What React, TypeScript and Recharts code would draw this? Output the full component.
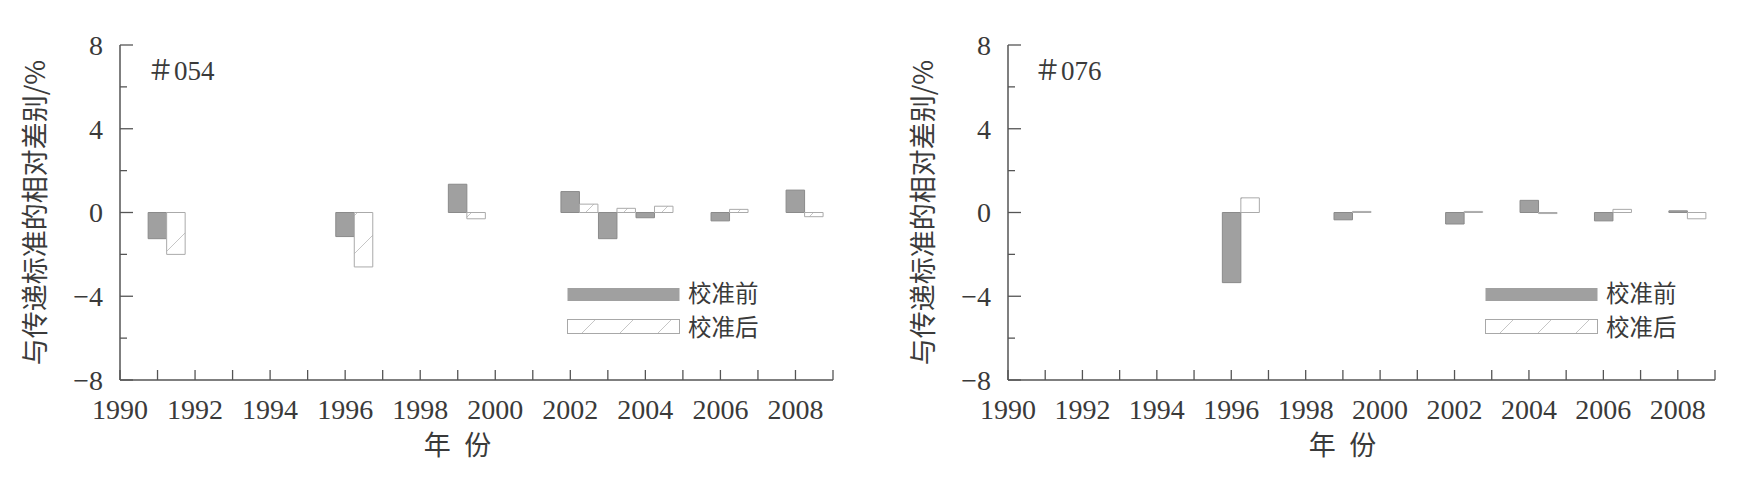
import { Bar, BarChart, Label, Legend, XAxis, YAxis } from "recharts"

const years054 = [1991, 1996, 1999, 2002, 2003, 2004, 2006, 2008]
const before054 = [-1.25, -1.15, 1.35, 1.0, -1.25, -0.25, -0.4, 1.07]
const after054 = [-2.0, -2.6, -0.3, 0.4, 0.2, 0.3, 0.15, -0.2]

const years076 = [1996, 1999, 2002, 2004, 2006, 2008]
const before076 = [-3.35, -0.35, -0.55, 0.58, -0.4, 0.08]
const after076 = [0.7, 0.05, 0.05, -0.05, 0.15, -0.3]

const yearTicks = [
  1990, 1991, 1992, 1993, 1994, 1995, 1996, 1997, 1998, 1999,
  2000, 2001, 2002, 2003, 2004, 2005, 2006, 2007, 2008, 2009,
]
const valueTicks = [-8, -6, -4, -2, 0, 2, 4, 6, 8]
const seriesNames = ["校准前", "校准后"]
const xTitle = "年\u2002份"
const yTitle = "与传递标准的相对差别/%"

const AXIS = "#555"
const INK = "#3a3a3a"
const GRAY = "#a0a0a0"
const NUM_FONT = '"Liberation Serif", "Noto Sans CJK SC", serif'
const CJK_FONT = '"Noto Sans CJK SC", sans-serif'

const rows = (years: number[], before: number[], after: number[]) =>
  years.map((year, i) => ({ year, before: before[i], after: after[i] }))

function YearTick({ x, y, payload }: any) {
  const v = payload.value
  return (
    <g>
      <line x1={x} x2={x} y1={y} y2={y - 10} stroke={AXIS} strokeWidth={1.3} />
      {v % 2 === 0 && v < 2009 ? (
        <text x={x} y={y + 39} textAnchor="middle" fill={INK} fontSize={28} fontFamily={NUM_FONT}>
          {v}
        </text>
      ) : null}
    </g>
  )
}

function ValueTick({ x, y, payload }: any) {
  const v = payload.value
  const major = v % 4 === 0
  return (
    <g>
      <line x1={x} x2={x + (major ? 13 : 7)} y1={y} y2={y} stroke={AXIS} strokeWidth={1.3} />
      {major ? (
        <text x={x - 17} y={y} dy="0.35em" textAnchor="end" fill={INK} fontSize={28} fontFamily={NUM_FONT}>
          {v < 0 ? `\u2212${-v}` : v}
        </text>
      ) : null}
    </g>
  )
}

// legend drawn at top 272; rows kept far enough apart that the CJK line boxes don't collide
function LegendBox() {
  return (
    <svg width={210} height={78} style={{ display: "block", overflow: "visible" }}>
      <rect x={0.5} y={16} width={112} height={13} fill={GRAY} />
      <rect x={0.5} y={47.5} width={112} height={14} fill="url(#afterHatch)" stroke="#a8a8a8" />
      <text x={121} y={21.5} dy="0.36em" fill={INK} fontSize={23.5} fontFamily={CJK_FONT}>
        {seriesNames[0]}
      </text>
      <text x={121} y={56} dy="0.36em" fill={INK} fontSize={23.5} fontFamily={CJK_FONT}>
        {seriesNames[1]}
      </text>
    </svg>
  )
}

function Panel({ left, tag, tagLeft, data, yAxisWidth, rightMargin, barSize, legendLeft }: any) {
  return (
    <div style={{ position: "absolute", left, top: 0, width: 870, height: 495 }}>
      <BarChart
        width={870}
        height={495}
        data={data}
        margin={{ top: 45, right: rightMargin, bottom: 0, left: 0 }}
        barGap={0}
      >
        <XAxis
          dataKey="year"
          type="number"
          domain={[1990, 2009]}
          ticks={yearTicks}
          interval={0}
          height={115}
          tickSize={0}
          tickMargin={0}
          tickLine={false}
          tick={YearTick}
          axisLine={{ stroke: AXIS, strokeWidth: 1.5 }}
        >
          <Label
            value={xTitle}
            position="insideBottom"
            offset={40}
            dx={-19}
            fill={INK}
            fontSize={27}
            fontFamily={CJK_FONT}
          />
        </XAxis>
        <XAxis xAxisId="shift" dataKey="year" type="number" domain={[1989.75, 2008.75]} hide />
        <YAxis
          type="number"
          domain={[-8, 8]}
          ticks={valueTicks}
          interval={0}
          width={yAxisWidth}
          tickSize={0}
          tickMargin={0}
          tickLine={false}
          tick={ValueTick}
          axisLine={{ stroke: AXIS, strokeWidth: 1.5 }}
        >
          <Label
            content={(p: any) => {
              const vb = p.viewBox
              const cx = vb.x + vb.width - 87
              const cy = vb.y + vb.height / 2
              return (
                <text
                  x={cx}
                  y={cy}
                  transform={`rotate(-90 ${cx} ${cy})`}
                  textAnchor="middle"
                  dominantBaseline="central"
                  fill={INK}
                  fontSize={27}
                  fontFamily={CJK_FONT}
                >
                  {yTitle}
                </text>
              )
            }}
          />
        </YAxis>
        <Bar
          xAxisId="shift"
          dataKey="before"
          name={seriesNames[0]}
          fill={GRAY}
          stroke="#8a8a8a"
          strokeWidth={1}
          barSize={barSize}
          isAnimationActive={false}
        />
        <Bar
          xAxisId="shift"
          dataKey="after"
          name={seriesNames[1]}
          fill="url(#afterHatch)"
          stroke="#aaaaaa"
          strokeWidth={1}
          barSize={barSize}
          isAnimationActive={false}
        />
        <Legend
          layout="vertical"
          align="center"
          verticalAlign="middle"
          content={() => <LegendBox />}
          wrapperStyle={{ left: legendLeft, top: 272, width: "auto", height: "auto" }}
        />
      </BarChart>
      <div
        style={{
          position: "absolute",
          left: tagLeft,
          top: 57,
          fontFamily: NUM_FONT,
          fontSize: 27,
          lineHeight: "28px",
          color: INK,
        }}
      >
        {tag}
      </div>
    </div>
  )
}

export default function App() {
  return (
    <div style={{ position: "absolute", left: 0, top: 0, width: 1740, height: 495, background: "#fff" }}>
      <svg width={0} height={0} style={{ position: "absolute" }}>
        <defs>
          <pattern id="afterHatch" patternUnits="userSpaceOnUse" width={38} height={38}>
            <rect width={38} height={38} fill="#fff" />
            <path d="M0 38 L38 0" stroke="#c6c6c6" strokeWidth={1} />
          </pattern>
        </defs>
      </svg>
      <Panel
        left={0}
        tag="＃054"
        tagLeft={147}
        data={rows(years054, before054, after054)}
        yAxisWidth={120}
        rightMargin={37}
        barSize={18.5}
        legendLeft={567}
      />
      <Panel
        left={870}
        tag="＃076"
        tagLeft={164}
        data={rows(years076, before076, after076)}
        yAxisWidth={138}
        rightMargin={25}
        barSize={18.5}
        legendLeft={615}
      />
    </div>
  )
}
